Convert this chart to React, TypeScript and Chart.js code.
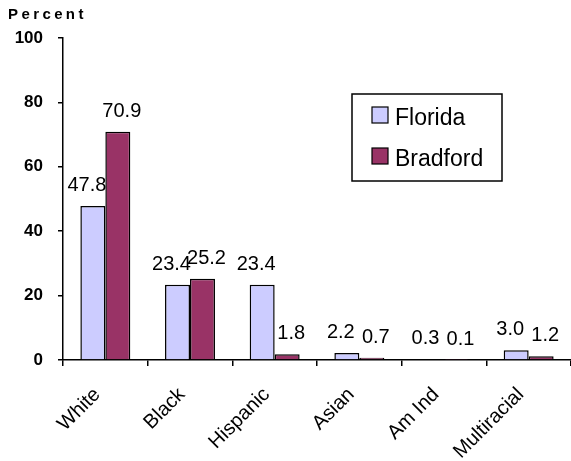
import React, { useEffect, useRef } from "react";
import { Chart, registerables } from "chart.js";

Chart.register(...registerables);

const categories = ["White", "Black", "Hispanic", "Asian", "Am Ind", "Multiracial"];
const floridaValues = [47.8, 23.4, 23.4, 2.2, 0.3, 3.0];
const bradfordValues = [70.9, 25.2, 1.8, 0.7, 0.1, 1.2];
const seriesNames = ["Florida", "Bradford"];
const yTicks = [0, 20, 40, 60, 80, 100];
const yTitle = "Percent";

const FONT = "'Liberation Sans', Arial, sans-serif";
const COLORS = ["#CCCCFF", "#993366"];

const overlayPlugin = {
  id: "overlay",
  afterDatasetsDraw(chart: any) {
    const ctx = chart.ctx;
    ctx.save();
    ctx.fillStyle = "#000";
    ctx.font = `20px ${FONT}`;
    ctx.textAlign = "center";
    ctx.textBaseline = "alphabetic";
    const dxs = [-6, 4];
    chart.data.datasets.forEach((ds: any, di: number) => {
      const meta = chart.getDatasetMeta(di);
      meta.data.forEach((bar: any, i: number) => {
        const v = ds.data[i];
        ctx.fillText(v.toFixed(1), bar.x + dxs[di], bar.y - 15);
      });
    });
    ctx.restore();
  },
  afterDraw(chart: any) {
    const ctx = chart.ctx;
    ctx.save();
    // title
    ctx.fillStyle = "#000";
    ctx.font = `bold 15px ${FONT}`;
    ctx.textAlign = "left";
    ctx.textBaseline = "alphabetic";
    try { (ctx as any).letterSpacing = "3.4px"; } catch (e) {}
    ctx.fillText(yTitle, 8, 19);
    try { (ctx as any).letterSpacing = "0px"; } catch (e) {}
    // legend
    const bx = 352, by = 94, bw = 150, bh = 87;
    ctx.lineWidth = 1.5;
    ctx.strokeStyle = "#000";
    ctx.strokeRect(bx, by, bw, bh);
    ctx.font = `23px ${FONT}`;
    seriesNames.forEach((name, i) => {
      const sy = 107 + i * 41;
      ctx.fillStyle = COLORS[i];
      ctx.fillRect(372, sy, 16, 16);
      ctx.lineWidth = 1.2;
      ctx.strokeRect(372, sy, 16, 16);
      ctx.fillStyle = "#000";
      ctx.fillText(name, 395, sy + 18);
    });
    ctx.restore();
  },
};

export default function App() {
  const ref = useRef<HTMLCanvasElement | null>(null);
  useEffect(() => {
    if (!ref.current) return;
    const chart = new Chart(ref.current, {
      type: "bar",
      data: {
        labels: categories,
        datasets: [
          {
            label: seriesNames[0],
            data: floridaValues,
            backgroundColor: COLORS[0],
            borderColor: "#000",
            borderWidth: 1.5,
            barPercentage: 1,
            categoryPercentage: 0.59,
          },
          {
            label: seriesNames[1],
            data: bradfordValues,
            backgroundColor: COLORS[1],
            borderColor: "#000",
            borderWidth: 1.5,
            barPercentage: 1,
            categoryPercentage: 0.59,
          },
        ],
      },
      options: {
        animation: false,
        responsive: false,
        maintainAspectRatio: false,
        layout: { padding: { top: 38, left: 0, right: 0, bottom: 0 } },
        plugins: { legend: { display: false }, tooltip: { enabled: false } },
        scales: {
          x: {
            offset: true,
            grid: { display: true, drawOnChartArea: false, offset: true, tickLength: 6, color: "#000", lineWidth: 1.5 },
            border: { color: "#000", width: 1.5 },
            ticks: {
              color: "#000",
              font: { family: FONT, size: 20 },
              minRotation: 45,
              maxRotation: 45,
              padding: 17,
              labelOffset: -8,
              autoSkip: false,
            },
            afterFit: (s: any) => { s.height = 101; },
          },
          y: {
            min: 0,
            max: 100,
            afterBuildTicks: (s: any) => { s.ticks = yTicks.map((v) => ({ value: v })); },
            grid: { display: true, drawOnChartArea: false, tickLength: 5, color: "#000", lineWidth: 1.5 },
            border: { color: "#000", width: 1.5 },
            ticks: {
              color: "#000",
              font: { family: FONT, size: 17, weight: "bold" },
              padding: 15,
            },
            afterFit: (s: any) => { s.width = 63; },
          },
        },
      },
      plugins: [overlayPlugin],
    });
    return () => chart.destroy();
  }, []);
  return (
    <div style={{ position: "absolute", left: 0, top: 0, width: 571, height: 461, background: "#fff" }}>
      <canvas ref={ref} width={571} height={461} style={{ width: 571, height: 461 }} />
    </div>
  );
}
